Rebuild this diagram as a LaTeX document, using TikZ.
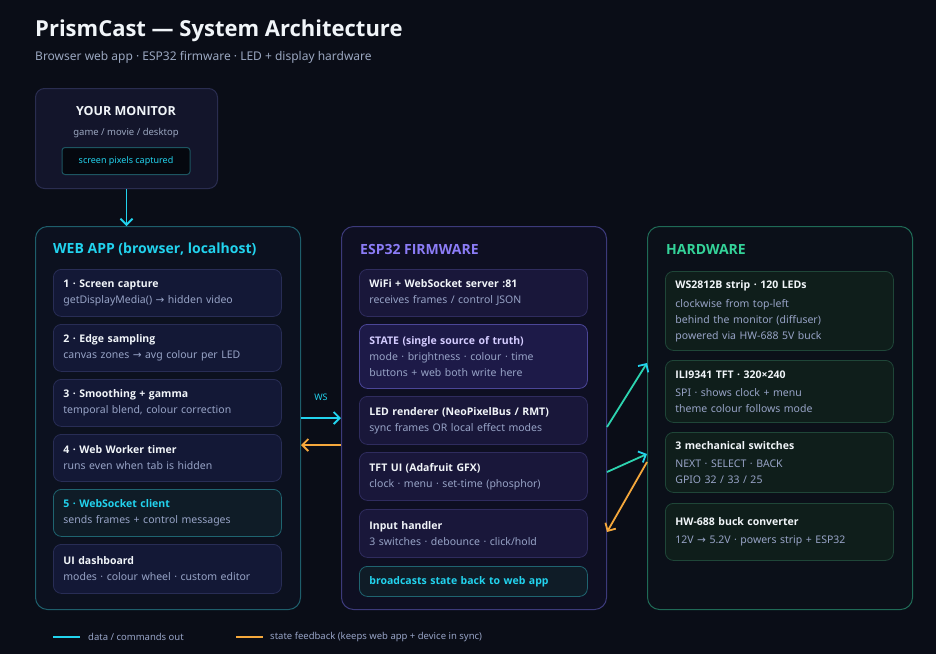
\documentclass[tikz,border=0pt]{standalone}
\usepackage{fontspec}
\IfFontExistsTF{Open Sans Bold}
  {\setmainfont{Noto Sans}[BoldFont={Open Sans Bold}]}
  {\setmainfont{Noto Sans}[AutoFakeBold=2.2]}
\newfontfamily\symfont{DejaVu Sans}
\usetikzlibrary{arrows.meta,positioning}
\definecolor{bgc}{HTML}{0A0D17}
\definecolor{cyanc}{HTML}{22D3EE}
\definecolor{orangec}{HTML}{F5A83C}
\definecolor{greenc}{HTML}{34D399}
\definecolor{tealc}{HTML}{2DD4B0}
\definecolor{purplec}{HTML}{8B7CF6}
\definecolor{lavc}{HTML}{D4CCFF}
\definecolor{whitec}{HTML}{F1F5F9}
\definecolor{descc}{HTML}{97A3C6}
\definecolor{subc}{HTML}{9AA6BF}
\definecolor{monfill}{HTML}{13152B}
\definecolor{monline}{HTML}{2A2D50}
\definecolor{pixfill}{HTML}{05080F}
\definecolor{pixline}{HTML}{1D5561}
\definecolor{webline}{HTML}{1E5E6B}
\definecolor{webfill}{HTML}{0C111F}
\definecolor{cardfill}{HTML}{131836}
\definecolor{cardline}{HTML}{282D55}
\definecolor{wsfill}{HTML}{0F1C27}
\definecolor{wsline}{HTML}{1F6470}
\definecolor{espline}{HTML}{3C3A7A}
\definecolor{espfill}{HTML}{0E0F22}
\definecolor{espcard}{HTML}{19173A}
\definecolor{espcardline}{HTML}{2F2C5E}
\definecolor{statefill}{HTML}{1D1A48}
\definecolor{stateline}{HTML}{4B4697}
\definecolor{hwline}{HTML}{1F6A56}
\definecolor{hwfill}{HTML}{0B1019}
\definecolor{hwcard}{HTML}{0F1E1B}
\definecolor{hwcardline}{HTML}{1F4638}
\begin{document}
\begin{tikzpicture}[x=1pt,y=-1pt,
  panel/.style={draw,line width=1pt,rounded corners=12pt,anchor=north west,inner sep=0pt,minimum width=265pt,minimum height=383pt},
  card/.style={draw,line width=0.8pt,rounded corners=8pt,anchor=north west,inner xsep=10pt,inner ysep=0pt,
    text width=208pt,align=left,text=descc,font=\fontsize{10.5}{16}\selectfont},
  webcard/.style={card,fill=cardfill,draw=cardline},
  espcardst/.style={card,fill=espcard,draw=espcardline},
  hwcardst/.style={card,fill=hwcard,draw=hwcardline},
  head/.style={anchor=west,inner sep=0pt,font=\fontsize{14}{16}\selectfont\bfseries},
  flow/.style={line width=1.8pt,-{Straight Barb[length=6pt,width=12pt]}},
  keytext/.style={anchor=west,inner sep=0pt,text=descc,font=\fontsize{9.5}{12}\selectfont}]
%Nen
\fill[bgc] (0,0) rectangle (936,654);
\useasboundingbox (0,0) rectangle (936,654);
%Tieu de
\node[anchor=west,inner sep=0pt,text=whitec,font=\fontsize{22}{26}\selectfont\bfseries] (title) at (35,31) {PrismCast — System Architecture};
\node[anchor=west,inner sep=0pt,text=subc,font=\fontsize{12}{14}\selectfont] (subtitle) at (35,57) {Browser web app · ESP32 firmware · LED + display hardware};
%Monitor
\node[draw=monline,fill=monfill,line width=1pt,rounded corners=9pt,anchor=north west,minimum width=182pt,minimum height=100pt] (mon) at (35,88) {};
\node[text=whitec,font=\fontsize{12.5}{14}\selectfont\bfseries] (montitle) at (126,111) {YOUR MONITOR};
\node[text=subc,font=\fontsize{9.5}{12}\selectfont] (monsub) at (126,133) {game / movie / desktop};
\node[draw=pixline,fill=pixfill,line width=1pt,rounded corners=3pt,minimum width=128pt,minimum height=27pt,text=cyanc,font=\fontsize{9}{11}\selectfont] (pix) at (126,161) {screen pixels captured};
%Web app
\node[panel,draw=webline,fill=webfill] (web) at (35,226) {};
\node[head,text=cyanc] (webhead) at (53,249) {WEB APP (browser, localhost)};
\node[webcard,minimum height=47pt] (capture) at (53,269) {{\bfseries\color{whitec}1 · Screen capture}\\getDisplayMedia() {\symfont →} hidden video};
\node[webcard,minimum height=47pt] (edge) at (53,324) {{\bfseries\color{whitec}2 · Edge sampling}\\canvas zones {\symfont →} avg colour per LED};
\node[webcard,minimum height=47pt] (smooth) at (53,379) {{\bfseries\color{whitec}3 · Smoothing + gamma}\\temporal blend, colour correction};
\node[webcard,minimum height=47pt] (worker) at (53,434) {{\bfseries\color{whitec}4 · Web Worker timer}\\runs even when tab is hidden};
\node[card,fill=wsfill,draw=wsline,minimum height=47pt] (client) at (53,489) {{\bfseries\color{cyanc}5 · WebSocket client}\\sends frames + control messages};
\node[webcard,minimum height=49pt] (dash) at (53,544) {{\bfseries\color{whitec}UI dashboard}\\modes · colour wheel · custom editor};
%ESP32
\node[panel,draw=espline,fill=espfill] (esp) at (341,226) {};
\node[head,text=purplec] (esphead) at (360,249) {ESP32 FIRMWARE};
\node[espcardst,minimum height=47pt] (server) at (359,269) {{\bfseries\color{whitec}WiFi + WebSocket server :81}\\receives frames / control JSON};
\node[card,fill=statefill,draw=stateline,minimum height=64pt] (state) at (359,324) {{\bfseries\color{lavc}STATE (single source of truth)}\\mode · brightness · colour · time\\buttons + web both write here};
\node[espcardst,minimum height=48pt] (render) at (359,396) {{\bfseries\color{whitec}LED renderer (NeoPixelBus / RMT)}\\sync frames OR local effect modes};
\node[espcardst,minimum height=48pt] (tftui) at (359,452) {{\bfseries\color{whitec}TFT UI (Adafruit GFX)}\\clock · menu · set-time (phosphor)};
\node[espcardst,minimum height=48pt] (input) at (359,509) {{\bfseries\color{whitec}Input handler}\\3 switches · debounce · click/hold};
\node[card,fill=wsfill,draw=wsline,minimum height=30pt,text=cyanc] (bcast) at (359,566) {\bfseries broadcasts state back to web app};
%Hardware
\node[panel,draw=hwline,fill=hwfill] (hw) at (647,226) {};
\node[head,text=greenc] (hwhead) at (666,249) {HARDWARE};
\node[hwcardst,minimum height=79pt] (strip) at (665,271) {{\bfseries\color{whitec}WS2812B strip · 120 LEDs}\\[3pt]clockwise from top-left\\behind the monitor (diffuser)\\powered via HW-688 5V buck};
\node[hwcardst,minimum height=62pt] (tft) at (665,360) {{\bfseries\color{whitec}ILI9341 TFT · 320×240}\\[2pt]SPI · shows clock + menu\\theme colour follows mode};
\node[hwcardst,minimum height=60pt] (switches) at (665,432) {{\bfseries\color{whitec}3 mechanical switches}\\[2pt]NEXT · SELECT · BACK\\GPIO 32 / 33 / 25};
\node[hwcardst,minimum height=57pt] (buck) at (665,503) {{\bfseries\color{whitec}HW-688 buck converter}\\[2pt]12V {\symfont →} 5.2V · powers strip + ESP32};
%Mui ten
\draw[flow,cyanc] (mon.south) -- (mon.south |- web.north);
\draw[flow,cyanc] (web.east) -- (esp.west) node[midway,above=17pt,inner sep=0pt,font=\fontsize{9}{10}\selectfont]{WS};
\draw[flow,orangec] ([yshift=-27pt]esp.west) -- ([yshift=-27pt]web.east);
\draw[line width=1.8pt,tealc,-{Straight Barb[length=6pt,width=12pt,color=cyanc]}] ([yshift=-9pt]esp.east) -- ([yshift=55pt]hw.west);
\draw[line width=1.8pt,tealc,-{Straight Barb[length=6pt,width=12pt,color=cyanc]}] ([yshift=-54pt]esp.east) -- ([yshift=-36pt]hw.west);
\draw[flow,orangec] ([yshift=-44pt]hw.west) -- ([yshift=-114pt]esp.east);
%Chu thich
\coordinate (keya) at (53,637);
\coordinate (keyb) at (80,637);
\coordinate (keyc) at (236,637);
\coordinate (keyd) at (263,637);
\draw[cyanc,line width=2.5pt] (keya) -- (keyb);
\node[keytext] (keydata) at (88,637) {data / commands out};
\draw[orangec,line width=2.5pt] (keyc) -- (keyd);
\node[keytext] (keystate) at (270,637) {state feedback (keeps web app + device in sync)};
\end{tikzpicture}
\end{document}
